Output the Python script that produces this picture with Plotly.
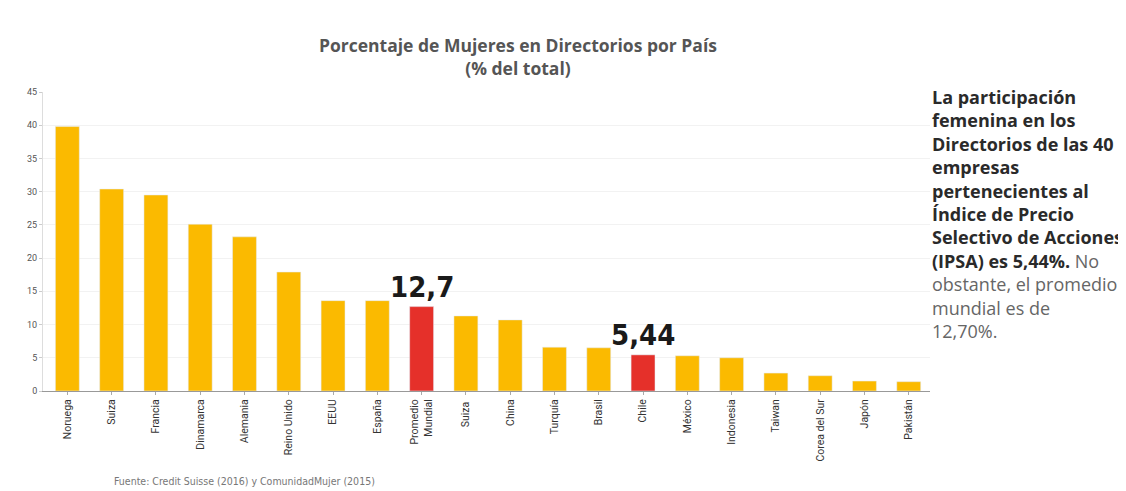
import plotly.graph_objects as go

paises = ["Noruega", "Suiza", "Francia", "Dinamarca", "Alemania", "Reino Unido", "EEUU",
          "España", "Promedio<br>Mundial", "Suiza ", "China", "Turquía", "Brasil", "Chile",
          "México", "Indonesia", "Taiwan", "Corea del Sur", "Japón", "Pakistán"]
valores = [39.8, 30.4, 29.5, 25.1, 23.2, 17.9, 13.6, 13.6, 12.7, 11.3, 10.7, 6.6, 6.5,
           5.44, 5.3, 5.0, 2.7, 2.3, 1.5, 1.4]
destacados = ["Promedio<br>Mundial", "Chile"]
etiquetas = {"Promedio<br>Mundial": "12,7", "Chile": "5,44"}
y_ticks = [0, 5, 10, 15, 20, 25, 30, 35, 40, 45]

AMARILLO = "#FBBA00"
ROJO = "#E5302A"

colores = [ROJO if p in destacados else AMARILLO for p in paises]

fig = go.Figure()
fig.add_trace(go.Bar(
    x=paises, y=valores,
    marker_color=colores,
    width=0.54,
    showlegend=False,
))

# Valores destacados sobre las barras rojas
for p, txt in etiquetas.items():
    v = valores[paises.index(p)]
    fig.add_annotation(
        x=p, y=v, text=f"<b>{txt}</b>", showarrow=False,
        yanchor="bottom", yshift=1,
        font=dict(family="DejaVu Sans Condensed", size=29, color="#1a1a1a"),
    )

fig.add_annotation(
    xref="paper", yref="paper", x=0.535, y=1.0, yanchor="bottom", yshift=10,
    text="<b>Porcentaje de Mujeres en Directorios por País<br>(% del total)</b>",
    showarrow=False,
    font=dict(family="Open Sans", size=17.5, color="#555555"),
)

fig.add_annotation(
    xref="paper", yref="paper", x=1.0, y=1.0, xanchor="left", yanchor="top",
    xshift=0, yshift=9,
    align="left", showarrow=False,
    text=("<b>La participación<br>femenina en los<br>Directorios de las 40<br>empresas<br>"
          "pertenecientes al<br>Índice de Precio<br>Selectivo de Acciones<br>"
          "(IPSA) es 5,44%.</b><span style='color:#666666'> No<br>obstante, el promedio<br>"
          "mundial es de<br>12,70%.</span>"),
    font=dict(family="Open Sans", size=18, color="#2a2a2a"),
)

fig.add_annotation(
    xref="paper", yref="paper", x=0.078, y=-0.30, xanchor="left", yanchor="middle",
    text="Fuente: Credit Suisse (2016) y ComunidadMujer (2015)", showarrow=False,
    font=dict(family="DejaVu Sans Condensed", size=10.5, color="#777777"),
)

fig.update_layout(
    width=1126, height=491,
    margin=dict(l=35, r=204, t=84, b=108),
    paper_bgcolor="white", plot_bgcolor="white",
    xaxis=dict(
        tickangle=-90, tickfont=dict(family="Roboto", size=10.5, color="#333333"),
        showline=True, linecolor="#999999", linewidth=1,
        ticks="outside", ticklen=3, tickcolor="#aaaaaa",
        range=[-0.55, 19.48],
    ),
    yaxis=dict(
        range=[0, 45], tickvals=y_ticks,
        tickfont=dict(family="Roboto", size=9, color="#555555"),
        showgrid=True, gridcolor="#f2f2f2", zeroline=False,
        showline=True, linecolor="#dddddd",
        ticks="outside", ticklen=3, tickcolor="#cccccc",
    ),
)

fig.write_html("out.html")
